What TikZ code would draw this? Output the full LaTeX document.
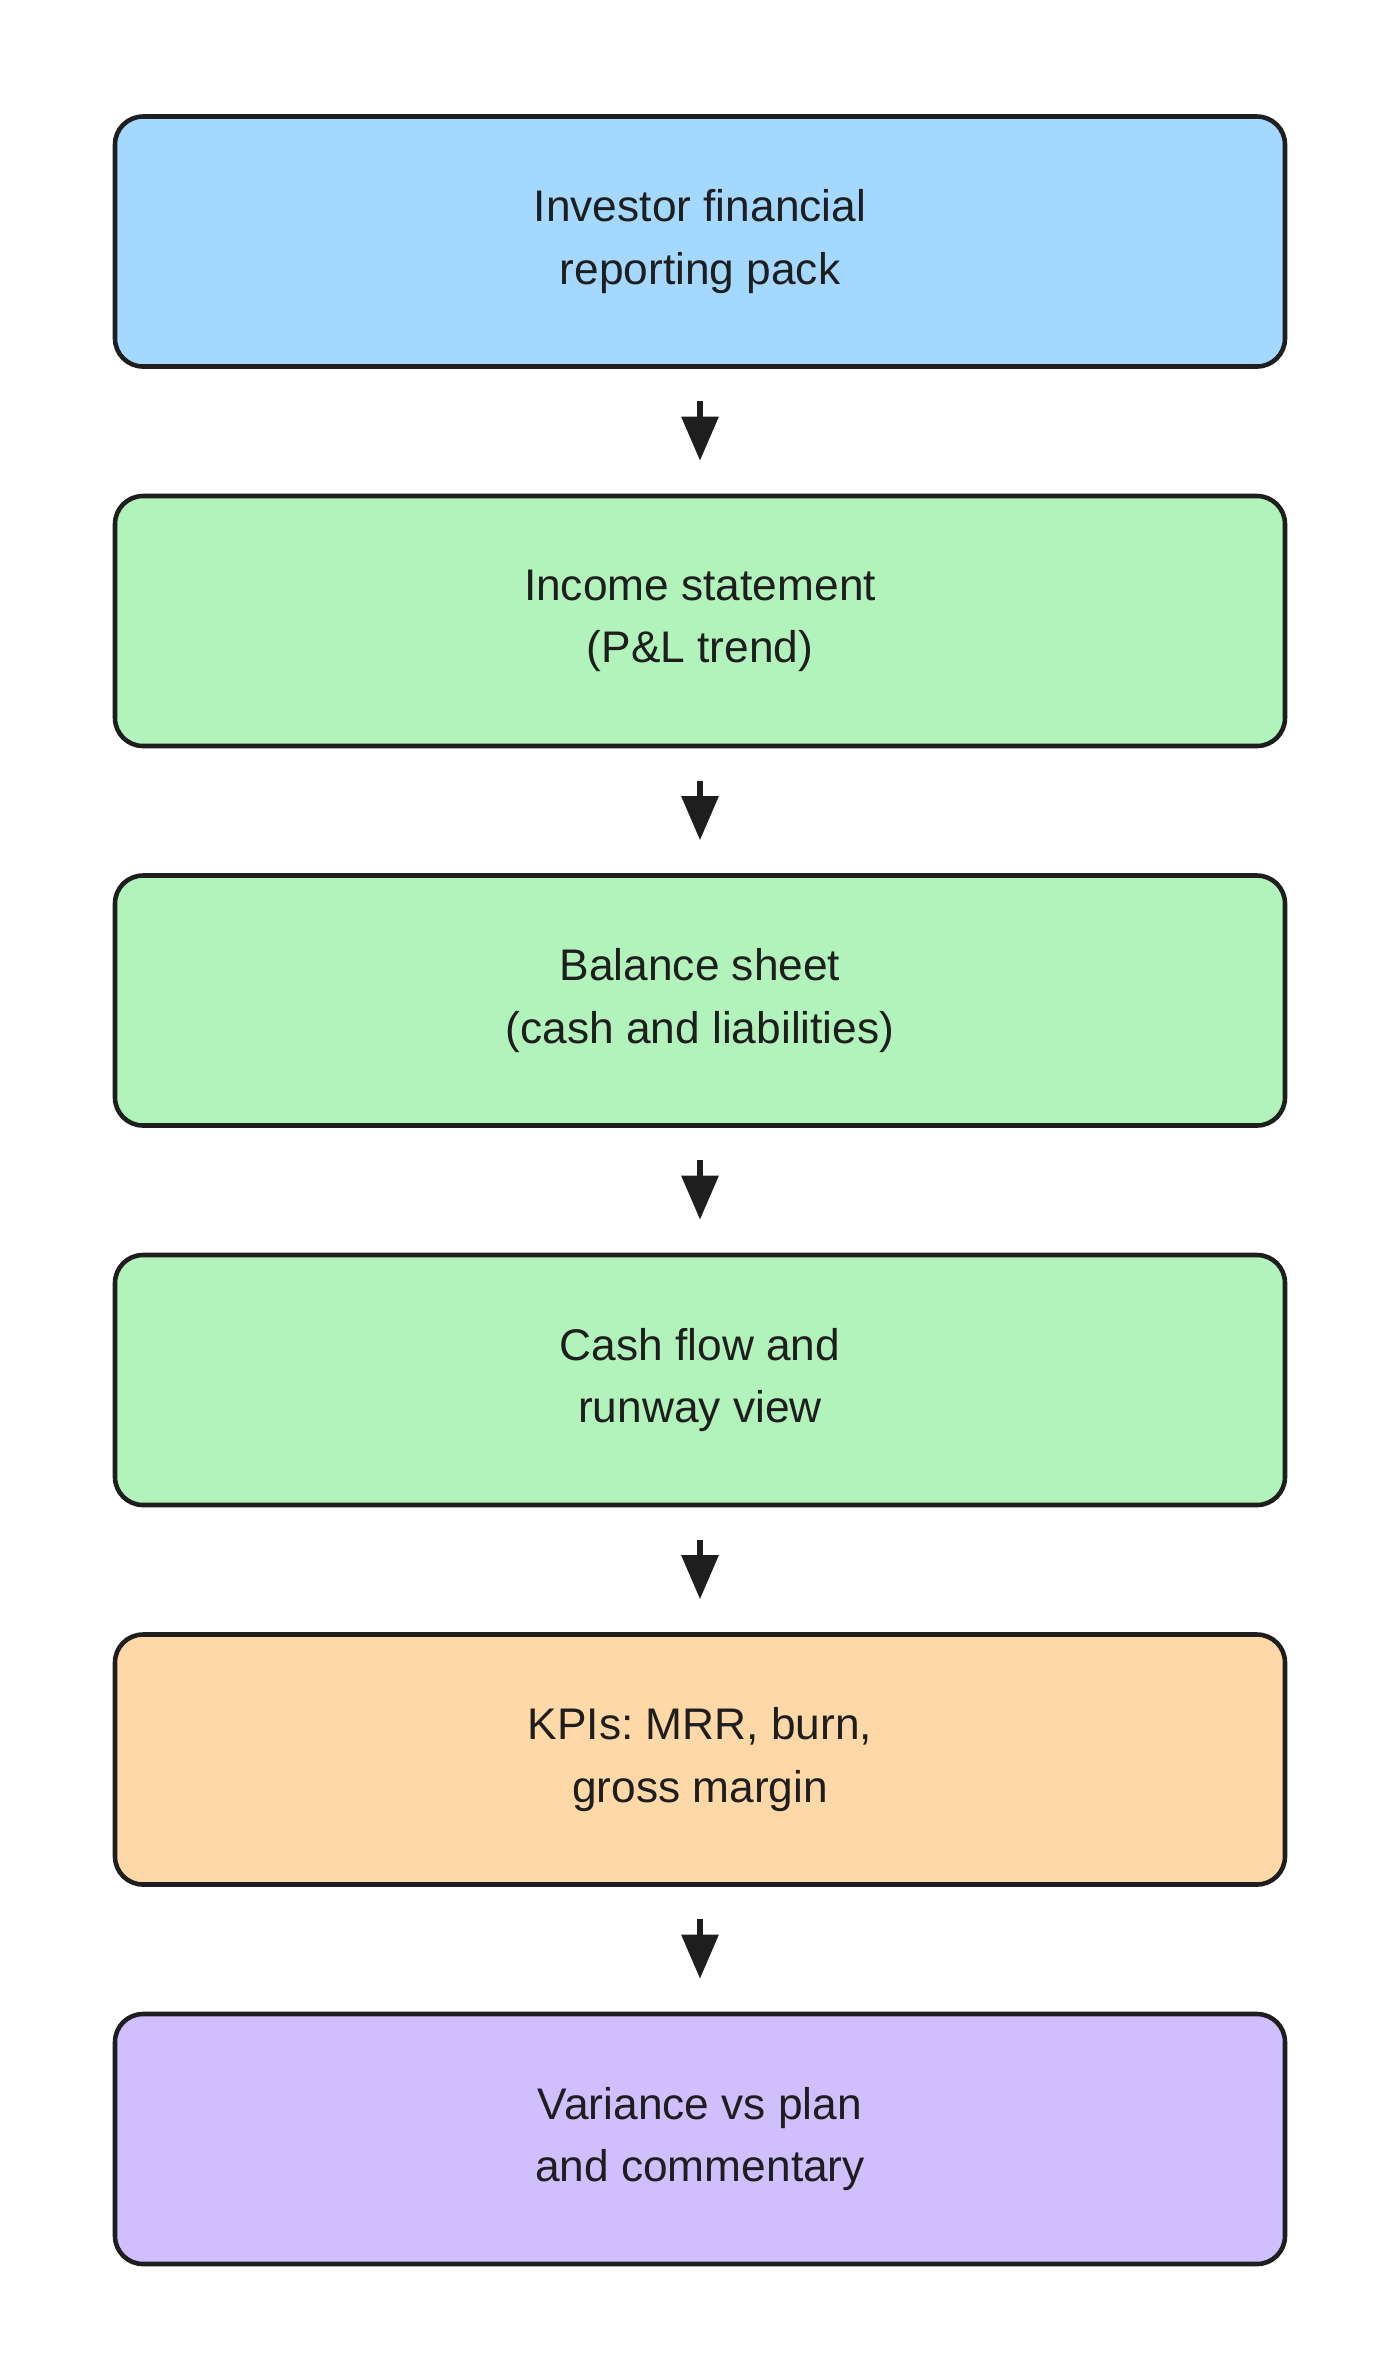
\documentclass[tikz,border=0pt]{standalone}
\usepackage{fontspec}
\setmainfont{Liberation Sans}
\usetikzlibrary{positioning,arrows.meta}

\definecolor{packblue}{HTML}{A5D8FF}
\definecolor{stmtgreen}{HTML}{B2F2BB}
\definecolor{kpiorange}{HTML}{FFD8A8}
\definecolor{notepurple}{HTML}{D0BFFF}
\definecolor{ink}{HTML}{1E1E1E}
\frenchspacing

\begin{document}
\begin{tikzpicture}[every node/.style={font=\fontsize{12.6}{17.7}\selectfont, text=ink},
  stage/.style={draw=ink, line width=1.3pt, rounded corners=0.28cm, minimum width=11.7cm, minimum height=2.5cm, align=center},
  flow/.style={draw=ink, line width=1.7pt, -{Triangle[length=0.44cm, width=0.36cm]}, shorten >=0.33cm, shorten <=0.325cm}]
  \useasboundingbox (0,0) rectangle (14,-23.8);
  \node[stage, fill=packblue] (pack) at (7,-2.415) {Investor financial\\reporting pack};
  \node[stage, fill=stmtgreen] (income) at (7,-6.21) {Income statement\\(P\&L trend)};
  \node[stage, fill=stmtgreen] (balance) at (7,-10.005) {Balance sheet\\(cash and liabilities)};
  \node[stage, fill=stmtgreen] (cashflow) at (7,-13.8) {Cash flow and\\runway view};
  \node[stage, fill=kpiorange] (kpis) at (7,-17.595) {KPIs: MRR, burn,\\gross margin};
  \node[stage, fill=notepurple] (variance) at (7,-21.39) {Variance vs plan\\and commentary};
  \draw[flow] (pack) -- (income);
  \draw[flow] (income) -- (balance);
  \draw[flow] (balance) -- (cashflow);
  \draw[flow] (cashflow) -- (kpis);
  \draw[flow] (kpis) -- (variance);
\end{tikzpicture}
\end{document}
